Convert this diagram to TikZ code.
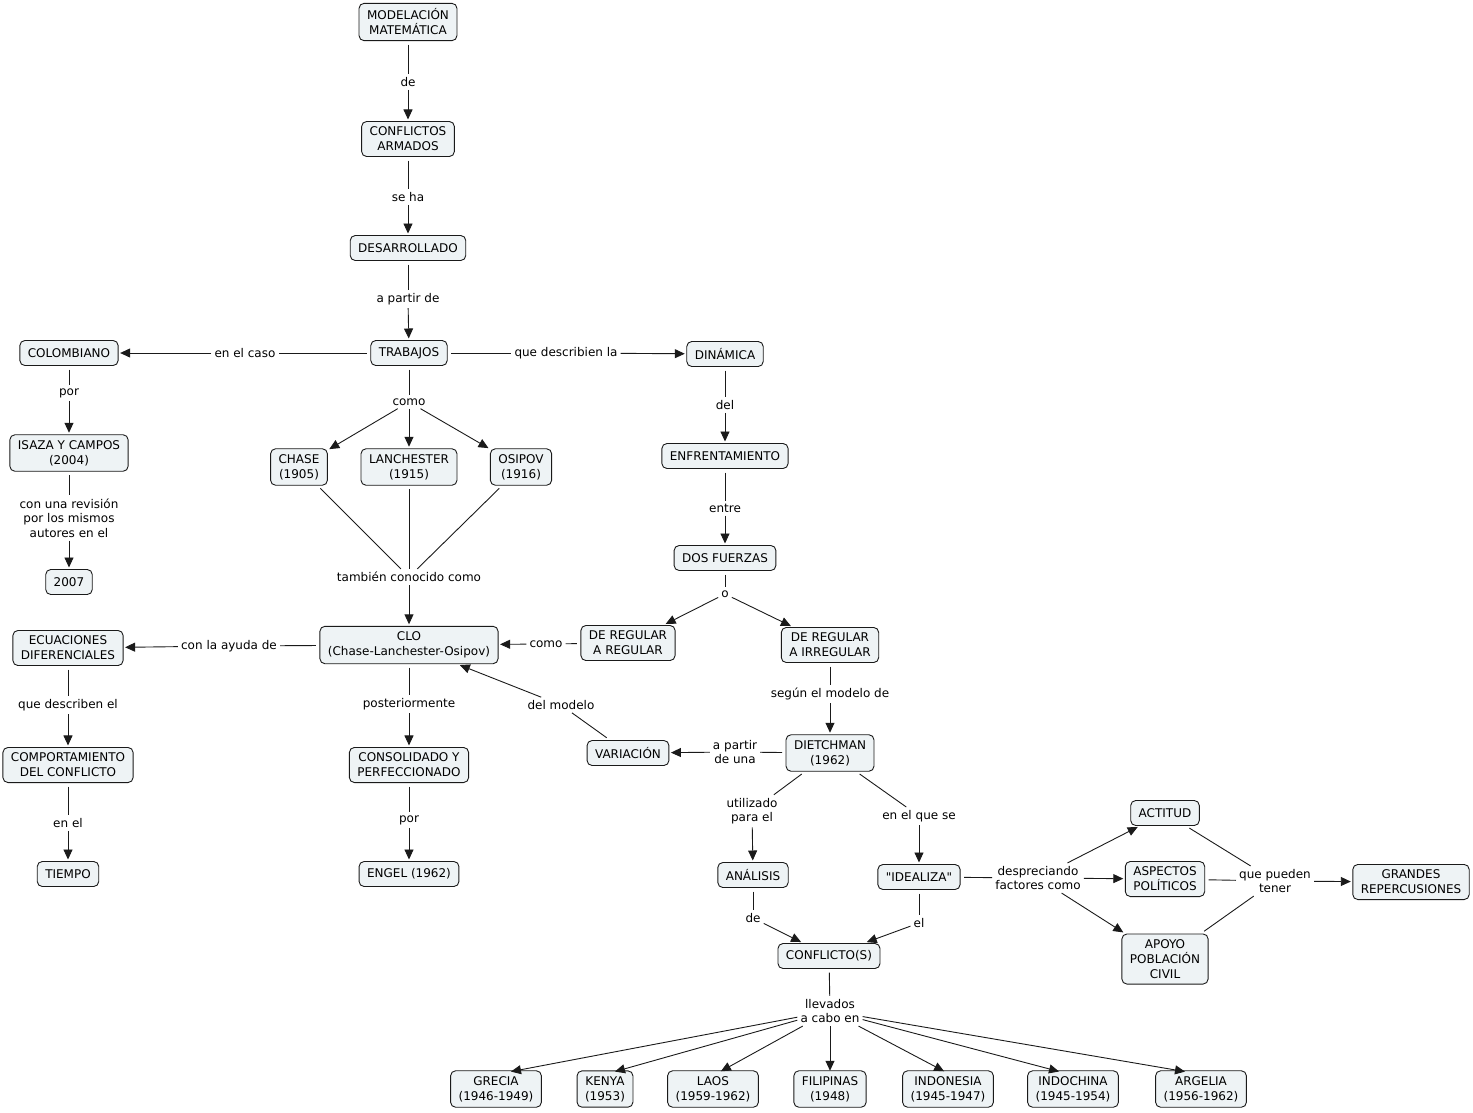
\documentclass[tikz,border=0pt]{standalone}
\usepackage{fontspec}
\setmainfont{DejaVu Sans}[Ligatures=TeXOff]
\usetikzlibrary{arrows.meta}
\definecolor{cfill}{HTML}{EEF3F5}
\definecolor{cline}{HTML}{1A1A1A}
\begin{document}
\begin{tikzpicture}[x=1pt,y=-1pt,
 concept/.style={draw=cline, fill=cfill, rounded corners=5pt, line width=0.9pt, align=center,
   inner xsep=8pt, inner ysep=5.5pt, minimum height=25pt, font=\fontsize{12}{15}\selectfont, outer sep=1pt},
 link/.style={align=center, inner sep=3pt, font=\fontsize{12}{14.5}\selectfont},
 ln/.style={draw=cline, line width=0.9pt, shorten <=3pt},
 ar/.style={draw=cline, line width=0.9pt, -{Triangle[length=10pt,width=9pt]}, shorten >=1pt}]
\useasboundingbox (0,0) rectangle (1473,1112);

% concepts
\node[concept] (mod) at (408,22) {MODELACIÓN\\MATEMÁTICA};
\node[concept] (conf) at (408,139) {CONFLICTOS\\ARMADOS};
\node[concept] (des) at (408,248) {DESARROLLADO};
\node[concept] (trab) at (409,353) {TRABAJOS};
\node[concept] (col) at (69,353) {COLOMBIANO};
\node[concept] (din) at (725,354) {DINÁMICA};
\node[concept] (isaza) at (69,453) {ISAZA Y CAMPOS\\(2004)};
\node[concept] (y2007) at (69,582) {2007};
\node[concept] (chase) at (299,467) {CHASE\\(1905)};
\node[concept] (lan) at (409,467) {LANCHESTER\\(1915)};
\node[concept] (osi) at (521,467) {OSIPOV\\(1916)};
\node[concept] (enf) at (725,456) {ENFRENTAMIENTO};
\node[concept] (dos) at (725,558) {DOS FUERZAS};
\node[concept] (clo) at (409,645) {CLO\\(Chase-Lanchester-Osipov)};
\node[concept] (ecu) at (68,648) {ECUACIONES\\DIFERENCIALES};
\node[concept] (drr) at (628,643) {DE REGULAR\\A REGULAR};
\node[concept] (dri) at (830,645) {DE REGULAR\\A IRREGULAR};
\node[concept] (comp) at (68,765) {COMPORTAMIENTO\\DEL CONFLICTO};
\node[concept] (cons) at (409,765) {CONSOLIDADO Y\\PERFECCIONADO};
\node[concept] (var) at (628,753) {VARIACIÓN};
\node[concept] (die) at (830,753) {DIETCHMAN\\(1962)};
\node[concept] (tiem) at (68,874) {TIEMPO};
\node[concept] (engel) at (409,874) {ENGEL (1962)};
\node[concept] (ana) at (753,875) {ANÁLISIS};
\node[concept] (ide) at (919,877) {"IDEALIZA"};
\node[concept] (act) at (1165,813) {ACTITUD};
\node[concept] (asp) at (1165,879) {ASPECTOS\\POLÍTICOS};
\node[concept] (apo) at (1165,959) {APOYO\\POBLACIÓN\\CIVIL};
\node[concept] (gra) at (1411,882) {GRANDES\\REPERCUSIONES};
\node[concept] (cfs) at (829,956) {CONFLICTO(S)};
\node[concept] (gre) at (496,1089) {GRECIA\\(1946-1949)};
\node[concept] (ken) at (605,1089) {KENYA\\(1953)};
\node[concept] (lao) at (713,1089) {LAOS\\(1959-1962)};
\node[concept] (fil) at (830,1089) {FILIPINAS\\(1948)};
\node[concept] (ind) at (948,1089) {INDONESIA\\(1945-1947)};
\node[concept] (ich) at (1073,1089) {INDOCHINA\\(1945-1954)};
\node[concept] (arg) at (1201,1089) {ARGELIA\\(1956-1962)};

% linking phrases
\node[link] (l1) at (408,82) {de};
\node[link] (l2) at (408,197) {se ha};
\node[link] (l3) at (408,299) {a partir de};
\node[link] (l4) at (245,353) {en el caso};
\node[link] (l5) at (566,353) {que describien la};
\node[link] (l6) at (69,393) {por};
\node[link] (l7) at (409,402) {como};
\node[link] (l8) at (725,405) {del};
\node[link] (l9) at (69,518) {con una revisión\\por los mismos\\autores en el};
\node[link] (l10) at (725,508) {entre};
\node[link] (l11) at (409,577) {también conocido como};
\node[link] (l12) at (725,594) {o};
\node[link] (l13) at (229,646) {con la ayuda de};
\node[link] (l14) at (546,644) {como};
\node[link] (l15) at (830,694) {según el modelo de};
\node[link] (l16) at (561,705) {del modelo};
\node[link] (l17) at (68,705) {que describen el};
\node[link] (l18) at (409,704) {posteriormente};
\node[link] (l19) at (735,752) {a partir\\de una};
\node[link] (l20) at (752,811) {utilizado\\para el};
\node[link] (l21) at (919,816) {en el que se};
\node[link] (l22) at (68,823) {en el};
\node[link] (l23) at (409,820) {por};
\node[link] (l24) at (1038,878) {despreciando\\factores como};
\node[link] (l25) at (1275,881) {que pueden\\tener};
\node[link] (l26) at (753,918) {de};
\node[link] (l27) at (919,923) {el};
\node[link] (l28) at (830,1011) {llevados\\a cabo en};

% connectors
\draw[ln] (mod) -- (l1); \draw[ar] (l1) -- (conf);
\draw[ln] (conf) -- (l2); \draw[ar] (l2) -- (des);
\draw[ln] (des) -- (l3); \draw[ar] (l3) -- (trab);
\draw[ln] (trab) -- (l4); \draw[ar] (l4) -- (col);
\draw[ln] (trab) -- (l5); \draw[ar] (l5) -- (din);
\draw[ln] (col) -- (l6); \draw[ar] (l6) -- (isaza);
\draw[ln] (isaza) -- (l9); \draw[ar] (l9) -- (y2007);
\draw[ln] (trab) -- (l7);
\draw[ar] (l7) -- (chase); \draw[ar] (l7) -- (lan); \draw[ar] (l7) -- (osi);
\draw[ln] (chase) -- (l11); \draw[ln] (lan) -- (l11); \draw[ln] (osi) -- (l11);
\draw[ar] (l11) -- (clo);
\draw[ln] (din) -- (l8); \draw[ar] (l8) -- (enf);
\draw[ln] (enf) -- (l10); \draw[ar] (l10) -- (dos);
\draw[ln] (dos) -- (l12); \draw[ar] (l12) -- (drr); \draw[ar] (l12) -- (dri);
\draw[ln] (clo) -- (l13); \draw[ar] (l13) -- (ecu);
\draw[ln] (drr) -- (l14); \draw[ar] (l14) -- (clo);
\draw[ln] (dri) -- (l15); \draw[ar] (l15) -- (die);
\draw[ln] (var) -- (l16); \draw[ar] (l16) -- (clo);
\draw[ln] (ecu) -- (l17); \draw[ar] (l17) -- (comp);
\draw[ln] (clo) -- (l18); \draw[ar] (l18) -- (cons);
\draw[ln] (die) -- (l19); \draw[ar] (l19) -- (var);
\draw[ln] (die) -- (l20); \draw[ar] (l20) -- (ana);
\draw[ln] (die) -- (l21); \draw[ar] (l21) -- (ide);
\draw[ln] (comp) -- (l22); \draw[ar] (l22) -- (tiem);
\draw[ln] (cons) -- (l23); \draw[ar] (l23) -- (engel);
\draw[ln] (ide) -- (l24);
\draw[ar] (l24) -- (act); \draw[ar] (l24) -- (asp); \draw[ar] (l24) -- (apo);
\draw[ln] (act) -- (l25); \draw[ln] (asp) -- (l25); \draw[ln] (apo) -- (l25);
\draw[ar] (l25) -- (gra);
\draw[ln] (ana) -- (l26); \draw[ar] (l26) -- (cfs);
\draw[ln] (ide) -- (l27); \draw[ar] (l27) -- (cfs);
\draw[ln] (cfs) -- (l28);
\draw[ar] (l28) -- ([xshift=14pt,yshift=-2pt]gre.north);
\draw[ar] (l28) -- ([xshift=9pt,yshift=-2pt]ken.north);
\draw[ar] (l28) -- ([xshift=7pt,yshift=-2pt]lao.north);
\draw[ar] (l28) -- ([yshift=-2pt]fil.north);
\draw[ar] (l28) -- ([xshift=-3pt,yshift=-2pt]ind.north);
\draw[ar] (l28) -- ([xshift=-13pt,yshift=-2pt]ich.north);
\draw[ar] (l28) -- ([xshift=-15pt,yshift=-2pt]arg.north);
\end{tikzpicture}
\end{document}
